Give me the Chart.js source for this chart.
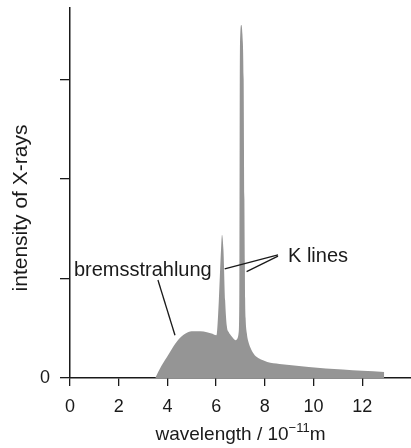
<!DOCTYPE html>
<html>
<head>
<meta charset="utf-8">
<script src="https://cdn.jsdelivr.net/npm/chart.js@4"></script>
<style>
  html, body { margin: 0; padding: 0; background: #fff; }
  #wrap { width: 411px; height: 448px; }
</style>
</head>
<body>
<div id="wrap"><canvas id="xray"></canvas></div>
<script>
// espectro de rayos X: longitud de onda (10^-11 m) e intensidad (unidades arbitrarias)
const wavelength = [3.5, 3.62, 3.75, 3.9, 4.05, 4.25, 4.5, 4.8, 5.06, 5.35,
  5.62, 5.85, 6.0, 6.03, 6.11, 6.2, 6.24, 6.3, 6.37, 6.44,
  6.52, 6.6, 6.7, 6.8, 6.88, 6.92, 6.95, 6.96, 6.97, 6.99,
  7.03, 7.08, 7.13, 7.16, 7.18, 7.19, 7.21, 7.26, 7.33, 7.4,
  7.5, 7.67, 7.9, 8.1, 8.6, 9.2, 9.8, 10.5, 11.2, 12.0, 12.9];
const intensity = [0, 0.06, 0.12, 0.18, 0.24, 0.32, 0.4, 0.455, 0.47, 0.47,
  0.46, 0.445, 0.43, 0.45, 0.78, 1.29, 1.44, 1.29, 0.78, 0.52,
  0.46, 0.43, 0.4, 0.38, 0.4, 0.45, 0.78, 1.8, 3.0, 3.45,
  3.55, 3.45, 3.0, 1.8, 1.12, 0.8, 0.6, 0.45, 0.36, 0.31,
  0.26, 0.21, 0.18, 0.16, 0.14, 0.125, 0.11, 0.095, 0.085, 0.072, 0.06];

const xTicks = [0, 2, 4, 6, 8, 10, 12];
const yTicks = [0, 1, 2, 3];
const yTickLabels = { 0: '0' };

const xTitle = 'wavelength / 10';
const xTitleSup = '\u221211';
const xTitleUnit = 'm';
const yTitle = 'intensity of X-rays';

// etiquetas en coordenadas de datos
const labelBrems = { text: 'bremsstrahlung', x: 0.16, y: 1.03 };
const leaderBrems = [[3.61, 0.985], [4.31, 0.43]];
const labelK = { text: 'K lines', x: 8.95, y: 1.17 };
const leadersK = [
  [[8.54, 1.237], [6.35, 1.096]],
  [[8.54, 1.225], [7.25, 1.069]]
];

const FONT = '"Liberation Sans", Arial, sans-serif';
const INK = '#1a1a1a';

const points = wavelength.map((w, i) => ({ x: w, y: intensity[i] }));

const annotations = {
  id: 'annotations',
  afterDraw(chart) {
    const { ctx, scales: { x, y }, chartArea } = chart;
    const px = v => x.getPixelForValue(v);
    const py = v => y.getPixelForValue(v);
    ctx.save();
    ctx.fillStyle = INK;
    ctx.strokeStyle = INK;
    ctx.lineWidth = 1.3;
    ctx.textBaseline = 'alphabetic';
    ctx.textAlign = 'left';

    ctx.font = '20px ' + FONT;
    ctx.fillText(labelBrems.text, px(labelBrems.x), py(labelBrems.y));
    ctx.fillText(labelK.text, px(labelK.x), py(labelK.y));

    const seg = s => {
      ctx.beginPath();
      ctx.moveTo(px(s[0][0]), py(s[0][1]));
      ctx.lineTo(px(s[1][0]), py(s[1][1]));
      ctx.stroke();
    };
    seg(leaderBrems);
    leadersK.forEach(seg);

    // título del eje x con exponente
    ctx.font = '19px ' + FONT;
    const w1 = ctx.measureText(xTitle).width;
    ctx.font = '13px ' + FONT;
    const w2 = ctx.measureText(xTitleSup).width;
    ctx.font = '19px ' + FONT;
    const w3 = ctx.measureText(xTitleUnit).width;
    const cx = (chartArea.left + chartArea.right) / 2;
    let tx = cx - (w1 + w2 + w3) / 2;
    const base = 440;
    ctx.fillText(xTitle, tx, base);
    tx += w1;
    ctx.font = '13px ' + FONT;
    ctx.fillText(xTitleSup, tx, base - 8);
    tx += w2;
    ctx.font = '19px ' + FONT;
    ctx.fillText(xTitleUnit, tx, base);

    // título del eje y
    ctx.font = '21px ' + FONT;
    ctx.translate(27, 208);
    ctx.rotate(-Math.PI / 2);
    ctx.textAlign = 'center';
    ctx.fillText(yTitle, 0, 0);
    ctx.restore();
  }
};

const ctx = document.getElementById('xray').getContext('2d');
const chart = new Chart(ctx, {
  type: 'line',
  data: {
    datasets: [{
      data: points,
      fill: 'origin',
      backgroundColor: '#959595',
      borderWidth: 0,
      borderColor: 'rgba(0,0,0,0)',
      pointRadius: 0,
      cubicInterpolationMode: 'monotone'
    }]
  },
  options: {
    responsive: true,
    maintainAspectRatio: false,
    animation: false,
    layout: { padding: { top: 8, right: 0, left: 0, bottom: 0 } },
    plugins: { legend: { display: false }, tooltip: { enabled: false } },
    scales: {
      x: {
        type: 'linear',
        min: 0,
        max: 14,
        afterFit: s => { s.height = 70; },
        afterBuildTicks: s => { s.ticks = xTicks.map(v => ({ value: v })); },
        ticks: {
          padding: 10,
          color: INK,
          font: { family: FONT, size: 18 },
          maxRotation: 0
        },
        grid: { drawOnChartArea: false, tickLength: 8, color: INK, lineWidth: 1.3 },
        border: { color: INK, width: 1.5 }
      },
      y: {
        min: 0,
        max: 3.72,
        afterFit: s => { s.width = 70; s.paddingTop = 0; s.paddingBottom = 0; },
        afterBuildTicks: s => { s.ticks = yTicks.map(v => ({ value: v })); },
        ticks: {
          padding: 10,
          color: INK,
          font: { family: FONT, size: 18 },
          callback: v => yTickLabels[v] || ''
        },
        grid: { drawOnChartArea: false, tickLength: 10, color: INK, lineWidth: 1.3 },
        border: { color: INK, width: 1.5 }
      }
    }
  },
  plugins: [annotations]
});
</script>
</body>
</html>
